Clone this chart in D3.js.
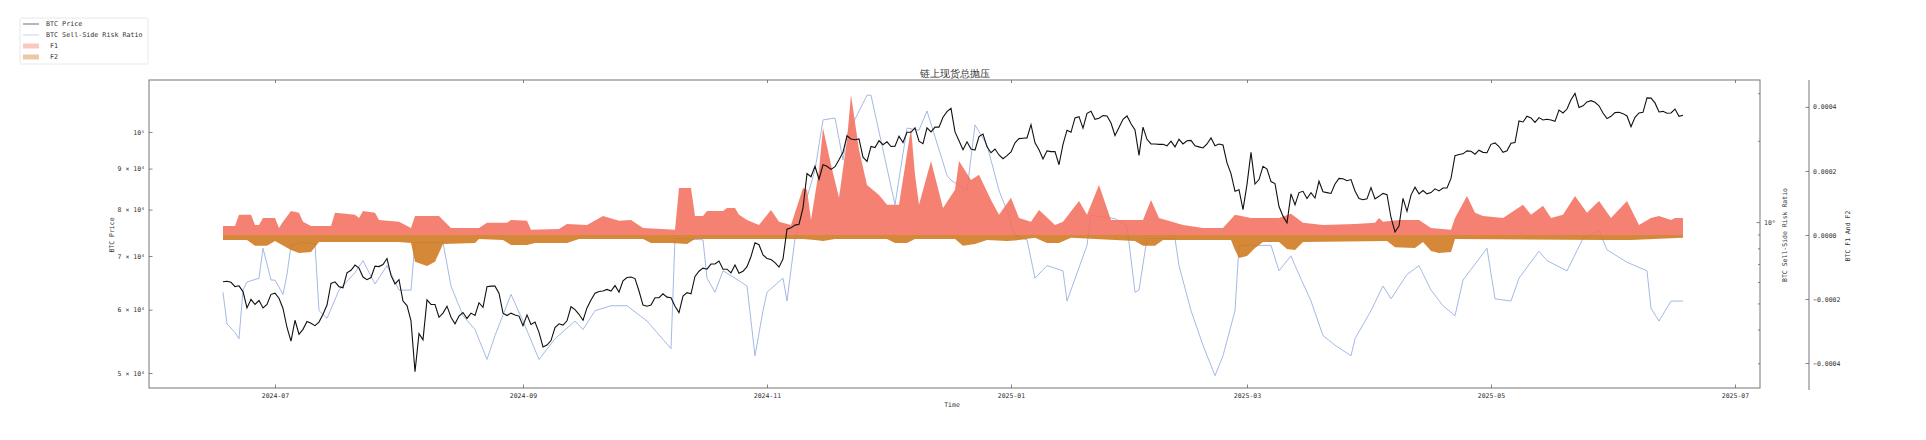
<!DOCTYPE html>
<html><head><meta charset="utf-8">
<script src="https://cdn.jsdelivr.net/npm/d3@7"></script>
<style>
body{margin:0;background:#fff}
svg{display:block}
text{font-family:"DejaVu Sans Mono","Liberation Mono",monospace;fill:#333}
</style>
</head><body>
<svg id="c" width="1926" height="440"></svg>
<script>
// ---------------- data ----------------
const title = "链上现货总抛压";
const priceStart = "2024-06-18";
const priceValues = [
65000,65100,64900,64100,64250,63200,60300,61800,60900,61600,60300,60900,62700,
62900,62000,60200,57000,54800,58200,55900,56700,58000,57700,57300,57900,59200,60800,64700,65000,64100,63900,66700,67200,68200,67600,65900,65400,65800,68000,67900,68300,69500,66200,64600,
65400,61500,60700,58100,50200,56000,55000,61700,60900,60900,58700,59400,60600,58700,57600,58900,59500,58500,59400,59000,61200,60400,64100,64200,64200,62900,59400,59000,59400,59100,58900,
57300,59100,57500,57900,56200,53900,54200,54900,57000,57600,57400,58100,60500,60000,59200,58200,60300,61700,62900,63200,63300,63600,63300,64300,63100,65200,65800,65900,65600,63300,
60800,60600,60800,62100,62100,62800,62200,62100,60600,59500,62400,63000,62800,66000,67000,67600,67400,68400,68400,69000,67400,67400,66700,68200,66600,67000,67900,69900,72700,72300,70200,
69500,69300,68700,67800,69400,75600,75900,76500,76700,80400,88700,87900,90600,87300,91000,90600,89800,90500,92300,94300,98900,98000,97800,98000,93000,91900,95900,95600,97500,96400,
97200,95900,96000,98800,97000,99900,99900,101200,97400,96700,101200,100000,101400,101400,104300,106000,107000,100000,97500,95000,97200,95200,94900,98700,99400,95800,94200,95200,93600,92600,93400,
94400,96900,98100,98200,98300,102100,96900,95000,92500,94700,94500,94500,91000,96500,100500,99900,104100,104500,101100,105500,106100,103700,104000,104800,104700,102600,99000,101300,103700,104700,102400,
100600,93500,101400,97900,96600,96600,96500,96500,96100,97400,95800,97900,96600,97500,97600,96100,95800,95500,96600,98300,96100,96600,96300,91500,88700,84300,84700,80000,
86000,94300,86100,87200,90600,89900,86700,86200,80700,78500,77000,83700,81100,84000,84300,82600,84000,82700,86800,84200,84000,83800,86100,87500,87400,86900,87200,84400,82600,82300,82500,
85200,82500,83100,83800,83500,78200,75000,76300,82600,79600,83400,85300,83700,84500,83700,84000,84900,84400,85100,85100,87500,93400,93700,93900,94700,94600,93800,94900,94300,94200,
96500,96900,95900,94300,94700,96800,97000,103200,102900,104600,104100,102800,104200,103500,103700,103500,103100,106500,105600,106800,109700,111700,107300,107800,109000,109400,108900,107800,105600,103900,104600,
105700,105800,105400,104700,101500,104300,105600,105800,110300,110200,108700,105900,106100,105500,105600,106800,104600,104900
];

const ratioDates = ["2024-06-18","2024-06-19","2024-06-21","2024-06-22","2024-06-23","2024-06-24","2024-06-27","2024-06-28","2024-06-30","2024-07-01","2024-07-03","2024-07-04","2024-07-05","2024-07-08","2024-07-11","2024-07-12","2024-07-14","2024-07-17","2024-07-21","2024-07-23","2024-07-26","2024-07-29","2024-08-01","2024-08-04","2024-08-05","2024-08-12","2024-08-14","2024-08-17","2024-08-20","2024-08-23","2024-08-25","2024-08-29","2024-09-01","2024-09-05","2024-09-09","2024-09-14","2024-09-16","2024-09-19","2024-09-23","2024-09-27","2024-10-02","2024-10-08","2024-10-09","2024-10-16","2024-10-17","2024-10-19","2024-10-21","2024-10-24","2024-10-27","2024-10-29","2024-10-31","2024-11-01","2024-11-05","2024-11-06","2024-11-08","2024-11-13","2024-11-15","2024-11-18","2024-11-20","2024-11-21","2024-11-26","2024-11-27","2024-11-30","2024-12-03","2024-12-06","2024-12-09","2024-12-11","2024-12-16","2024-12-17","2024-12-21","2024-12-23","2024-12-26","2024-12-29","2024-12-31","2025-01-02","2025-01-05","2025-01-07","2025-01-10","2025-01-14","2025-01-15","2025-01-20","2025-01-21","2025-01-27","2025-01-30","2025-02-01","2025-02-02","2025-02-04","2025-02-11","2025-02-12","2025-02-15","2025-02-18","2025-02-21","2025-02-23","2025-02-26","2025-02-27","2025-03-07","2025-03-09","2025-03-12","2025-03-13","2025-03-17","2025-03-20","2025-03-23","2025-03-27","2025-03-28","2025-04-01","2025-04-04","2025-04-06","2025-04-10","2025-04-13","2025-04-16","2025-04-19","2025-04-22","2025-04-24","2025-04-30","2025-05-02","2025-05-06","2025-05-08","2025-05-13","2025-05-15","2025-05-20","2025-05-24","2025-05-28","2025-05-30","2025-06-04","2025-06-09","2025-06-10","2025-06-12","2025-06-15","2025-06-18"];
const ratioValues = [0.55,0.42,0.39,0.37,0.56,0.60,0.62,0.80,0.61,0.61,0.54,0.64,0.82,0.84,0.83,0.47,0.44,0.56,0.65,0.72,0.59,0.69,0.56,0.56,0.84,0.84,0.58,0.45,0.40,0.31,0.38,0.54,0.43,0.31,0.37,0.43,0.40,0.47,0.49,0.49,0.43,0.34,0.87,0.86,0.62,0.55,0.66,0.62,0.58,0.32,0.47,0.55,0.62,0.51,0.87,1.56,2.39,2.43,1.70,2.10,2.95,2.95,1.85,1.16,2.23,2.19,2.58,1.49,1.43,1.31,2.29,1.93,1.31,1.10,0.89,0.86,0.62,0.69,0.66,0.51,0.82,1.06,1.03,0.97,0.55,0.56,0.87,0.87,0.69,0.47,0.35,0.27,0.32,0.47,0.82,0.82,0.66,0.75,0.69,0.51,0.38,0.35,0.32,0.37,0.47,0.58,0.52,0.64,0.69,0.56,0.49,0.45,0.61,0.80,0.52,0.51,0.62,0.78,0.72,0.66,0.87,0.93,0.79,0.71,0.66,0.48,0.43,0.51,0.51];

const f1Dates = ["2024-06-18","2024-06-21","2024-06-22","2024-06-25","2024-06-26","2024-06-27","2024-06-28","2024-07-01","2024-07-02","2024-07-03","2024-07-05","2024-07-07","2024-07-08","2024-07-10","2024-07-15","2024-07-16","2024-07-21","2024-07-22","2024-07-23","2024-07-26","2024-07-27","2024-08-01","2024-08-04","2024-08-05","2024-08-11","2024-08-14","2024-08-21","2024-08-23","2024-08-28","2024-08-29","2024-09-02","2024-09-03","2024-09-10","2024-09-12","2024-09-17","2024-09-21","2024-09-25","2024-09-28","2024-10-01","2024-10-09","2024-10-10","2024-10-13","2024-10-14","2024-10-16","2024-10-17","2024-10-21","2024-10-22","2024-10-24","2024-10-25","2024-10-27","2024-10-30","2024-11-02","2024-11-04","2024-11-07","2024-11-10","2024-11-11","2024-11-12","2024-11-14","2024-11-15","2024-11-17","2024-11-19","2024-11-21","2024-11-22","2024-11-24","2024-11-26","2024-11-29","2024-12-01","2024-12-04","2024-12-07","2024-12-08","2024-12-09","2024-12-12","2024-12-15","2024-12-18","2024-12-19","2024-12-22","2024-12-24","2024-12-27","2024-12-29","2025-01-01","2025-01-03","2025-01-06","2025-01-08","2025-01-12","2025-01-14","2025-01-18","2025-01-20","2025-01-23","2025-01-26","2025-01-30","2025-02-03","2025-02-05","2025-02-07","2025-02-13","2025-02-18","2025-02-23","2025-02-26","2025-03-02","2025-03-09","2025-03-12","2025-03-15","2025-03-20","2025-03-28","2025-04-02","2025-04-03","2025-04-04","2025-04-08","2025-04-13","2025-04-16","2025-04-21","2025-04-22","2025-04-25","2025-04-27","2025-04-29","2025-05-04","2025-05-09","2025-05-11","2025-05-14","2025-05-16","2025-05-19","2025-05-22","2025-05-25","2025-05-28","2025-05-31","2025-06-04","2025-06-07","2025-06-10","2025-06-12","2025-06-15","2025-06-16","2025-06-18"];
const f1Values = [0.000028,0.000028,0.000063,0.000063,0.000031,0.000031,0.000053,0.000053,0.000022,0.000041,0.000075,0.000069,0.000041,0.000028,0.000028,0.000069,0.000063,0.000053,0.000075,0.000069,0.000047,0.000041,0.000022,0.000059,0.000059,0.000022,0.000022,0.000038,0.000038,0.000047,0.000044,0.000016,0.000019,0.000034,0.000031,0.000059,0.000044,0.000047,0.000022,0.000016,0.000147,0.000147,0.000059,0.000059,0.000075,0.000075,0.000084,0.000084,0.000063,0.000047,0.000031,0.000078,0.000041,0.000031,0.000147,0.000141,0.000047,0.000203,0.000334,0.000219,0.000116,0.000297,0.000438,0.000266,0.000156,0.000125,0.000094,0.000094,0.000334,0.000188,0.000094,0.000231,0.000084,0.000141,0.000231,0.000172,0.000188,0.000109,0.000063,0.000116,0.000053,0.000041,0.000078,0.000031,0.000041,0.000106,0.000063,0.000156,0.000047,0.000047,0.000047,0.000109,0.000053,0.000031,0.000022,0.000022,0.000063,0.000053,0.000053,0.000066,0.000038,0.000031,0.000034,0.000038,0.000053,0.000041,0.000047,0.000047,0.000022,0.000016,0.000053,0.000122,0.000069,0.000059,0.000053,0.000094,0.000063,0.000091,0.000053,0.000063,0.000122,0.000069,0.000106,0.000053,0.000106,0.000031,0.000053,0.000059,0.000047,0.000053,0.000053];

const f2Dates = ["2024-06-18","2024-06-24","2024-06-26","2024-06-29","2024-07-01","2024-07-05","2024-07-07","2024-07-10","2024-07-12","2024-08-01","2024-08-04","2024-08-05","2024-08-08","2024-08-10","2024-08-12","2024-08-20","2024-08-21","2024-08-27","2024-08-29","2024-09-02","2024-09-04","2024-09-12","2024-09-15","2024-10-01","2024-10-03","2024-10-08","2024-10-12","2024-10-14","2024-11-10","2024-11-13","2024-11-15","2024-11-18","2024-12-01","2024-12-03","2024-12-06","2024-12-08","2024-12-18","2024-12-20","2024-12-23","2024-12-26","2024-12-31","2025-01-03","2025-01-07","2025-01-10","2025-01-13","2025-01-16","2025-02-01","2025-02-03","2025-02-06","2025-02-08","2025-02-25","2025-02-26","2025-02-27","2025-03-01","2025-03-03","2025-03-05","2025-03-09","2025-03-11","2025-03-13","2025-03-15","2025-04-05","2025-04-07","2025-04-12","2025-04-14","2025-04-16","2025-04-18","2025-04-21","2025-04-22","2025-05-30","2025-06-05","2025-06-18"];
const f2Values = [-0.000016,-0.000016,-0.000034,-0.000034,-0.000019,-0.000047,-0.000056,-0.000053,-0.000022,-0.000022,-0.000025,-0.000084,-0.000097,-0.000084,-0.000028,-0.000025,-0.000013,-0.000016,-0.000031,-0.000031,-0.000025,-0.000025,-0.000013,-0.000013,-0.000025,-0.000025,-0.000028,-0.000013,-0.000013,-0.000016,-0.000019,-0.000013,-0.000013,-0.000025,-0.000025,-0.000013,-0.000013,-0.000034,-0.000028,-0.000016,-0.000019,-0.000016,-0.000009,-0.000025,-0.000025,-0.000009,-0.000019,-0.000034,-0.000034,-0.000016,-0.000016,-0.000047,-0.000072,-0.000066,-0.000041,-0.000022,-0.000022,-0.000044,-0.000047,-0.000022,-0.000019,-0.000038,-0.000041,-0.000022,-0.000050,-0.000056,-0.000053,-0.000013,-0.000016,-0.000016,-0.000009];

const priceTicks = [50000,60000,70000,80000,90000,100000];
const priceTickLabels = ["5 × 10⁴","6 × 10⁴","7 × 10⁴","8 × 10⁴","9 × 10⁴","10⁵"];
const ratioMajorTicks = [1];
const ratioTickLabels = ["10⁰"];
const ratioMinorTicks = [0.3,0.4,0.5,0.6,0.7,0.8,0.9,2,3];
const fTicks = [-0.0004,-0.0002,0,0.0002,0.0004];
const xTickDates = ["2024-07-01","2024-09-01","2024-11-01","2025-01-01","2025-03-01","2025-05-01","2025-07-01"];
const legendLabels = ["BTC Price","BTC Sell-Side Risk Ratio"," F1"," F2"];

// ---------------- layout ----------------
const L = 149, R = 1760, T = 80, B = 388, OUTER = 1809;
const parse = d3.utcParse("%Y-%m-%d");
const svg = d3.select("#c");
svg.append("rect").attr("width",1926).attr("height",440).attr("fill","#fff");

const x = d3.scaleUtc().domain([Date.UTC(2024,4,30,12), Date.UTC(2025,6,7,6)]).range([L,R]);
const yP = d3.scaleLog().domain([47900,116100]).range([B,T]);
const yR = d3.scaleLog().domain([0.243,3.36]).range([B,T]);
const yF = d3.scaleLinear().domain([-0.000478,0.000484]).range([B,T]);

const p0 = parse(priceStart);
const price = priceValues.map((v,i)=>({d:d3.utcDay.offset(p0,i), v}));
const ratio = ratioDates.map((s,i)=>({d:parse(s), v:ratioValues[i]}));
const f1 = f1Dates.map((s,i)=>({d:parse(s), v:f1Values[i]}));
const f2 = f2Dates.map((s,i)=>({d:parse(s), v:f2Values[i]}));

svg.append("clipPath").attr("id","clip").append("rect")
  .attr("x",L).attr("y",T).attr("width",R-L).attr("height",B-T);
const g = svg.append("g").attr("clip-path","url(#clip)");

g.append("path").datum(ratio)
  .attr("d", d3.line().x(d=>x(d.d)).y(d=>yR(d.v)))
  .attr("fill","none").attr("stroke","#92acdf").attr("stroke-width",0.85);

g.append("path").datum(f1)
  .attr("d", d3.area().x(d=>x(d.d)).y0(yF(0)).y1(d=>yF(d.v)))
  .attr("fill","#f46f5e").attr("fill-opacity",0.88);
g.append("path").datum(f2)
  .attr("d", d3.area().x(d=>x(d.d)).y0(yF(0)).y1(d=>yF(d.v)))
  .attr("fill","#cf771d").attr("fill-opacity",0.88);

g.append("path").datum(price)
  .attr("d", d3.line().x(d=>x(d.d)).y(d=>yP(d.v)))
  .attr("fill","none").attr("stroke","#111").attr("stroke-width",1.1);

// frame
svg.append("rect").attr("x",L).attr("y",T).attr("width",R-L).attr("height",B-T)
  .attr("fill","none").attr("stroke","#777").attr("stroke-width",1);

const FS = 6.5;
function styleAxis(sel){
  sel.select(".domain").remove();
  sel.selectAll(".tick line").attr("stroke","#666").attr("stroke-width",0.8);
  sel.selectAll(".tick text").attr("font-size",FS).attr("fill","#333")
     .attr("font-family","DejaVu Sans Mono, monospace");
}

// x axis (ticks inward)
const xTicks = xTickDates.map(parse);
svg.append("g").attr("transform",`translate(0,${B})`)
  .call(d3.axisBottom(x).tickValues(xTicks).tickFormat(d3.utcFormat("%Y-%m")).tickSize(-3.5).tickPadding(5))
  .call(styleAxis);
svg.append("g").attr("transform",`translate(0,${T})`)
  .call(d3.axisTop(x).tickValues(xTicks).tickFormat("").tickSize(-3)).call(styleAxis);

// left price axis
svg.append("g").attr("transform",`translate(${L},0)`)
  .call(d3.axisLeft(yP).tickValues(priceTicks).tickFormat((d,i)=>priceTickLabels[i]).tickSize(-3.5).tickPadding(4))
  .call(styleAxis);

// right ratio axis
svg.append("g").attr("transform",`translate(${R},0)`)
  .call(d3.axisRight(yR).tickValues(ratioMajorTicks).tickFormat((d,i)=>ratioTickLabels[i]).tickSize(-3.5).tickPadding(4))
  .call(styleAxis);
svg.append("g").attr("transform",`translate(${R},0)`)
  .call(d3.axisRight(yR).tickValues(ratioMinorTicks).tickFormat("").tickSize(-2))
  .call(styleAxis);

// outer F axis
svg.append("line").attr("x1",OUTER).attr("x2",OUTER).attr("y1",T).attr("y2",B+2)
  .attr("stroke","#777").attr("stroke-width",1);
svg.append("g").attr("transform",`translate(${OUTER},0)`)
  .call(d3.axisRight(yF).tickValues(fTicks).tickFormat(d3.format(".4f")).tickSize(-3.5).tickPadding(4))
  .call(styleAxis);

// labels
svg.append("text").attr("x",(L+R)/2).attr("y",77).attr("text-anchor","middle")
  .attr("font-family","Noto Sans CJK SC").attr("font-size",9.5).attr("fill","#333").text(title);
svg.append("text").attr("x",952).attr("y",407).attr("text-anchor","middle").attr("font-size",FS).text("Time");
svg.append("text").attr("transform","translate(114,235) rotate(-90)").attr("text-anchor","middle").attr("font-size",FS).text("BTC Price");
svg.append("text").attr("transform","translate(1787,235) rotate(-90)").attr("text-anchor","middle").attr("font-size",FS).text("BTC Sell-Side Risk Ratio");
svg.append("text").attr("transform","translate(1850,236) rotate(-90)").attr("text-anchor","middle").attr("font-size",FS).text("BTC F1 And F2");

// legend
const lg = svg.append("g");
lg.append("rect").attr("x",20).attr("y",18).attr("width",128).attr("height",46)
  .attr("fill","#fff").attr("stroke","#e2e2e2").attr("stroke-width",0.8).attr("rx",1.5);
const rowsY = [24,35,46,57];
lg.append("line").attr("x1",23).attr("x2",39).attr("y1",rowsY[0]).attr("y2",rowsY[0]).attr("stroke","#888").attr("stroke-width",1.2);
lg.append("line").attr("x1",23).attr("x2",39).attr("y1",rowsY[1]).attr("y2",rowsY[1]).attr("stroke","#c9d5ef").attr("stroke-width",1);
lg.append("rect").attr("x",23).attr("y",rowsY[2]-2.5).attr("width",16).attr("height",5).attr("fill","#f9c8be");
lg.append("rect").attr("x",23).attr("y",rowsY[3]-2.5).attr("width",16).attr("height",5).attr("fill","#ecc9a6");
legendLabels.forEach((t,i)=>{
  lg.append("text").attr("x",46).attr("y",rowsY[i]+2.3).attr("font-size",6.7).attr("fill","#555")
    .style("white-space","pre").text(t);
});
</script>
</body></html>
